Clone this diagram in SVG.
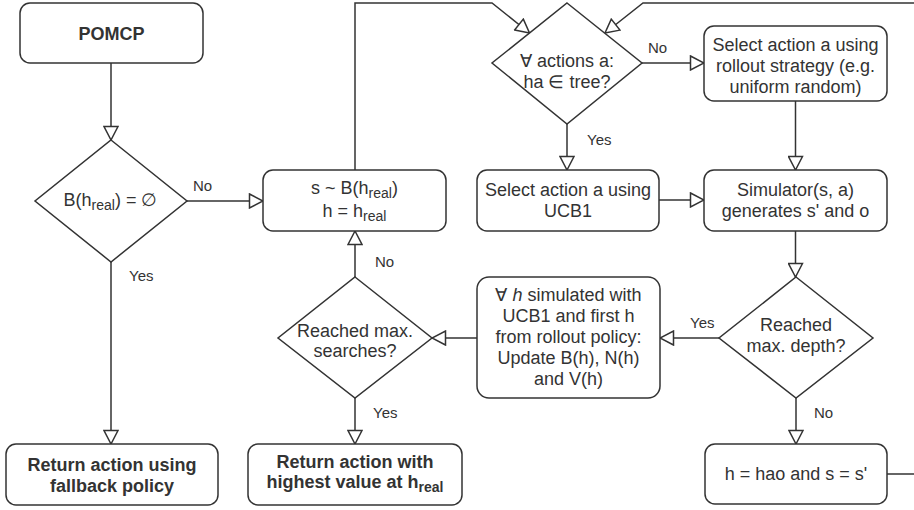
<svg xmlns="http://www.w3.org/2000/svg" width="914" height="510" viewBox="0 0 914 510">
<style>
.n{fill:#fff;stroke:#333;stroke-width:1.5}
.c{fill:none;stroke:#333;stroke-width:1.5}
text{font-family:"Liberation Sans",Arial,sans-serif;font-size:18px;fill:#333;text-anchor:middle}
.b{font-weight:bold}
.l{font-size:15px;text-anchor:start}
</style>
<defs>
<marker id="a" viewBox="0 0 16 16" refX="15" refY="8" markerWidth="16" markerHeight="16" markerUnits="userSpaceOnUse" orient="auto">
<path d="M1.5,1 L15,8 L1.5,15 z" fill="#fff" stroke="#333" stroke-width="1.5"/>
</marker>
</defs>
<rect width="914" height="510" fill="#fff"/>
<g id="connectors">
<path class="c" d="M111,63 V140" marker-end="url(#a)"/>
<path class="c" d="M187,201 H263" marker-end="url(#a)"/>
<path class="c" d="M111,262 V444" marker-end="url(#a)"/>
<path class="c" d="M355,170 V3 H492 L529.5,33" marker-end="url(#a)"/>
<path class="c" d="M914,3 H643 L605,33" marker-end="url(#a)"/>
<path class="c" d="M642,63 H704" marker-end="url(#a)"/>
<path class="c" d="M567,124 V170" marker-end="url(#a)"/>
<path class="c" d="M659,200 H704" marker-end="url(#a)"/>
<path class="c" d="M795.5,101 V170" marker-end="url(#a)"/>
<path class="c" d="M795.5,231 V277" marker-end="url(#a)"/>
<path class="c" d="M719,338 H660" marker-end="url(#a)"/>
<path class="c" d="M796,398 V444" marker-end="url(#a)"/>
<path class="c" d="M887,474 H914"/>
<path class="c" d="M477,338 H432" marker-end="url(#a)"/>
<path class="c" d="M355,277 V231" marker-end="url(#a)"/>
<path class="c" d="M355,398 V444" marker-end="url(#a)"/>
<text class="l" x="193" y="191">No</text>
<text class="l" x="129" y="281">Yes</text>
<text class="l" x="648" y="53">No</text>
<text class="l" x="587" y="145">Yes</text>
<text class="l" x="690" y="328">Yes</text>
<text class="l" x="814" y="418">No</text>
<text class="l" x="375" y="267">No</text>
<text class="l" x="373" y="418">Yes</text>
</g>
<g id="pomcp">
<rect class="n" x="20" y="3" width="183" height="60" rx="10"/>
<text class="b" x="111.5" y="40">POMCP</text>
</g>
<g id="belief-empty">
<path class="n" d="M111,140 L187,201 L111,262 L35,201 z"/>
<text x="110.5" y="206">B(h<tspan dy="4" font-size="14">real</tspan><tspan dy="-4">) = ∅</tspan></text>
</g>
<g id="fallback">
<rect class="n" x="6" y="444" width="212" height="61" rx="10"/>
<text class="b" x="112" y="471">Return action using</text>
<text class="b" x="112" y="491.5">fallback policy</text>
</g>
<g id="sample">
<rect class="n" x="263" y="170" width="183" height="61" rx="10"/>
<text x="354.5" y="194">s ~ B(h<tspan dy="4" font-size="14">real</tspan><tspan dy="-4">)</tspan></text>
<text x="354.5" y="217">h = h<tspan dy="4" font-size="14">real</tspan></text>
</g>
<g id="all-actions">
<path class="n" d="M567,3 L642,63 L567,124 L492,63 z"/>
<text x="567" y="67">∀ actions a:</text>
<text x="567" y="88">ha ∈ tree?</text>
</g>
<g id="rollout">
<rect class="n" x="704" y="26" width="183" height="75" rx="10"/>
<text x="795.5" y="51">Select action a using</text>
<text x="795.5" y="72">rollout strategy (e.g.</text>
<text x="795.5" y="93">uniform random)</text>
</g>
<g id="ucb1">
<rect class="n" x="477" y="170" width="182" height="61" rx="10"/>
<text x="568" y="196">Select action a using</text>
<text x="568" y="217">UCB1</text>
</g>
<g id="simulator">
<rect class="n" x="704" y="170" width="183" height="61" rx="10"/>
<text x="795.5" y="196">Simulator(s, a)</text>
<text x="795.5" y="217">generates s' and o</text>
</g>
<g id="max-depth">
<path class="n" d="M796,277 L873,338 L796,398 L719,338 z"/>
<text x="796" y="331">Reached</text>
<text x="796" y="352">max. depth?</text>
</g>
<g id="next">
<rect class="n" x="705" y="444" width="182" height="60" rx="10"/>
<text x="796" y="480">h = hao and s = s'</text>
</g>
<g id="update">
<rect class="n" x="477" y="277" width="183" height="121" rx="12"/>
<text x="568.5" y="301">∀ <tspan font-style="italic">h</tspan> simulated with</text>
<text x="568.5" y="322">UCB1 and first h</text>
<text x="568.5" y="343">from rollout policy:</text>
<text x="568.5" y="364">Update B(h), N(h)</text>
<text x="568.5" y="385">and V(h)</text>
</g>
<g id="max-searches">
<path class="n" d="M355,277 L432,338 L355,398 L278,338 z"/>
<text x="355" y="337">Reached max.</text>
<text x="355" y="357">searches?</text>
</g>
<g id="best">
<rect class="n" x="248" y="444" width="214" height="61" rx="10"/>
<text class="b" x="355" y="468">Return action with</text>
<text class="b" x="355" y="488">highest value at h<tspan dy="4" font-size="14">real</tspan></text>
</g>
</svg>
